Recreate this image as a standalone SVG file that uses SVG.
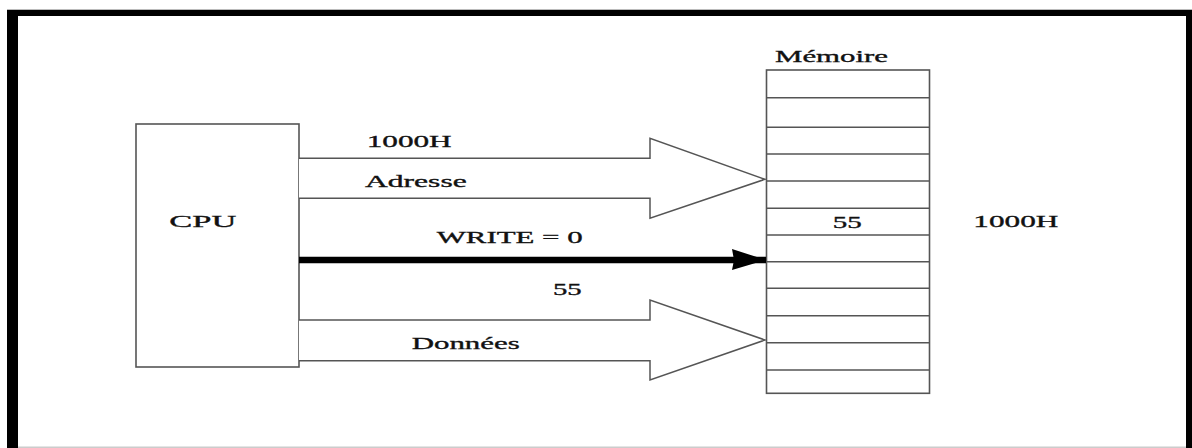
<svg xmlns="http://www.w3.org/2000/svg" width="1192" height="448" viewBox="0 0 1192 448">
<style>
.t{font-family:"Liberation Serif","Times New Roman",serif;font-size:17.5px;fill:#111;stroke:#111;stroke-width:0.35;}
.box{fill:#fff;stroke:#555;stroke-width:1.6;}
.row{stroke:#555;stroke-width:1.6;fill:none;}
.bus{fill:#fff;stroke:#555;stroke-width:1.5;stroke-linejoin:miter;}
</style>
<defs>
<marker id="ah" markerUnits="userSpaceOnUse" markerWidth="36" markerHeight="22" refX="34" refY="11" orient="auto">
<path d="M0,0 L34,11 L0,21 L2,11 Z" fill="#000"/>
</marker>
</defs>
<rect width="1192" height="448" fill="#fff"/>
<g id="frame">
<rect x="7" y="9" width="1185" height="1" fill="#bbb"/>
<rect x="7" y="10" width="1185" height="6" fill="#000"/>
<rect x="7" y="10" width="11" height="438" fill="#000"/>
<rect x="1186" y="10" width="6" height="438" fill="#000"/>
<rect x="18" y="446.5" width="1168" height="1.5" fill="#ccc"/>
</g>
<g id="cpu">
<rect class="box" x="136" y="124" width="163" height="243"/>
<text class="t" x="169.3" y="226.7" textLength="67" lengthAdjust="spacingAndGlyphs">CPU</text>
</g>
<g id="memory">
<text class="t" x="775" y="61.7" textLength="113" lengthAdjust="spacingAndGlyphs">Mémoire</text>
<rect class="box" x="766.5" y="70" width="163" height="323.3"/>
<path class="row" d="M766.5,97.7H929.5M766.5,127.3H929.5M766.5,154H929.5M766.5,181H929.5M766.5,208.3H929.5M766.5,235H929.5M766.5,261.7H929.5M766.5,288.3H929.5M766.5,315.7H929.5M766.5,342.7H929.5M766.5,370H929.5"/>
<text class="t" x="832.7" y="228.3" textLength="29" lengthAdjust="spacingAndGlyphs">55</text>
<text class="t" x="973.3" y="227.3" textLength="85" lengthAdjust="spacingAndGlyphs">1000H</text>
</g>
<g id="connectors">
<polyline class="bus" points="299,158.3 650,158.3 650,138.3 765,179.3 650,218.3 650,198.3 299,198.3"/>
<polyline class="bus" points="299,320 650,320 650,300 765,340 650,380 650,360.7 299,360.7"/>
<line x1="299" y1="260" x2="766" y2="260" stroke="#000" stroke-width="6.5" marker-end="url(#ah)"/>
</g>
<g id="labels">
<text class="t" x="366.7" y="146.7" textLength="85" lengthAdjust="spacingAndGlyphs">1000H</text>
<text class="t" x="365" y="186.7" textLength="101.7" lengthAdjust="spacingAndGlyphs">Adresse</text>
<text class="t" x="436.7" y="242.7" textLength="146" lengthAdjust="spacingAndGlyphs">WRITE = 0</text>
<text class="t" x="553" y="295" textLength="28.7" lengthAdjust="spacingAndGlyphs">55</text>
<text class="t" x="411.7" y="349" textLength="108" lengthAdjust="spacingAndGlyphs">Données</text>
</g>
</svg>
